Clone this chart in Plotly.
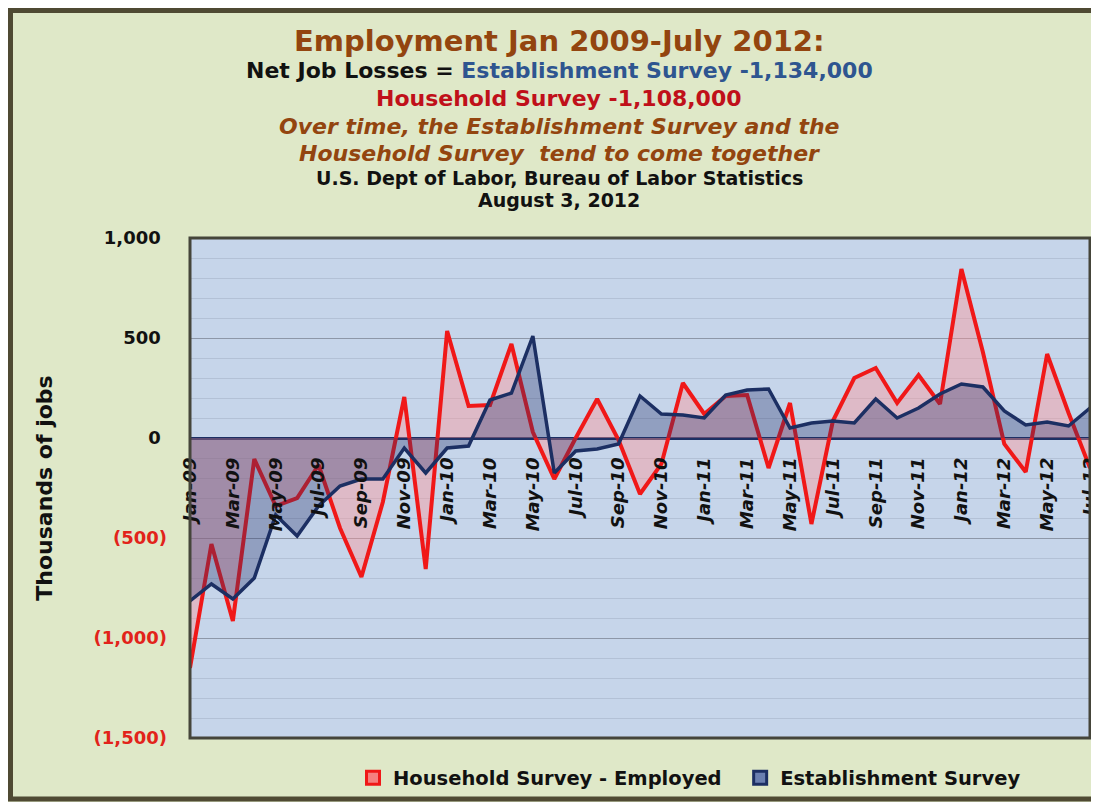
import plotly.graph_objects as go

months = ["Jan-09","Feb-09","Mar-09","Apr-09","May-09","Jun-09","Jul-09","Aug-09","Sep-09","Oct-09","Nov-09","Dec-09",
          "Jan-10","Feb-10","Mar-10","Apr-10","May-10","Jun-10","Jul-10","Aug-10","Sep-10","Oct-10","Nov-10","Dec-10",
          "Jan-11","Feb-11","Mar-11","Apr-11","May-11","Jun-11","Jul-11","Aug-11","Sep-11","Oct-11","Nov-11","Dec-11",
          "Jan-12","Feb-12","Mar-12","Apr-12","May-12","Jun-12","Jul-12"]

household = [-1150, -530, -915, -105, -340, -300, -135, -450, -695, -320, 205, -655,
             535, 160, 165, 470, 30, -205, 0, 195, -10, -280, -130, 275,
             120, 210, 215, -150, 175, -430, 85, 300, 350, 175, 315, 170,
             845, 430, -30, -170, 420, 125, -150]

establishment = [-815, -730, -805, -700, -385, -490, -340, -240, -205, -205, -50, -175,
                 -50, -40, 190, 225, 510, -175, -65, -55, -30, 210, 120, 115,
                 100, 215, 240, 245, 50, 75, 85, 75, 195, 100, 150, 220,
                 270, 255, 135, 65, 80, 60, 150]

tick_months = months[::2]
y_ticks = [1000, 500, 0, -500, -1000, -1500]
y_tick_text = ["1,000\u00a0", "500\u00a0", "0\u00a0",
               "<span style='color:#e2231a'>(500)</span>",
               "<span style='color:#e2231a'>(1,000)</span>",
               "<span style='color:#e2231a'>(1,500)</span>"]

# figure is drawn 8px in from the page corner (browser body margin)
W, H = 1091, 794
L, R, T, B = 182, 1082, 230, 730


def px(x):
    return (x - L) / (R - L)


def py(y):
    return (B - y) / (B - T)


FONT = "DejaVu Sans"
RED = "#f01818"
NAVY = "#1c2f63"

fig = go.Figure()
fig.add_trace(go.Scatter(x=months, y=household, mode="lines", fill="tozeroy",
                         fillcolor="rgba(255,150,150,0.42)",
                         line=dict(color=RED, width=4), showlegend=False))
fig.add_trace(go.Scatter(x=months, y=establishment, mode="lines", fill="tozeroy",
                         fillcolor="rgba(35,50,105,0.33)",
                         line=dict(color=NAVY, width=3.5), showlegend=False))
fig.add_trace(go.Scatter(x=[None], y=[None], mode="markers",
                         name="Household Survey - Employed\u00a0\u00a0",
                         marker=dict(symbol="square", size=13, color="#f58080",
                                     line=dict(color=RED, width=3))))
fig.add_trace(go.Scatter(x=[None], y=[None], mode="markers", name="Establishment Survey",
                         marker=dict(symbol="square", size=13, color="#6a7fb0",
                                     line=dict(color=NAVY, width=3))))

annots = [
    ("<b>Employment Jan 2009-July 2012:</b>", 33, 29, "#93450f"),
    ("<b>Net Job Losses = <span style='color:#2e5590'>Establishment Survey -1,134,000</span></b>", 63, 22, "#111111"),
    ("<b>Household Survey -1,108,000</b>", 90, 22, "#c0101a"),
    ("<b><i>Over time, the Establishment Survey and the</i></b>", 118, 22, "#93450f"),
    ("<b><i>Household Survey  tend to come together</i></b>", 145, 22, "#93450f"),
    ("<b>U.S. Dept of Labor, Bureau of Labor Statistics</b>", 170, 19, "#111111"),
    ("<b>August 3, 2012</b>", 192, 19, "#111111"),
]
annotations = []
for text, yc, size, color in annots:
    annotations.append(dict(text=text, x=px(551), y=py(yc), xref="paper", yref="paper",
                            xanchor="center", yanchor="middle", showarrow=False,
                            font=dict(family=FONT, size=size, color=color)))

shapes = [
    dict(type="rect", xref="paper", yref="paper", x0=px(2.5), x1=px(1130), y0=py(2.5), y1=py(791),
         fillcolor="rgba(0,0,0,0)", line=dict(color="#4f4a33", width=5), layer="above"),
    dict(type="rect", xref="paper", yref="paper", x0=0, x1=1, y0=0, y1=1,
         fillcolor="rgba(0,0,0,0)", line=dict(color="#45453a", width=3), layer="above"),
]

fig.update_layout(
    width=W, height=H,
    margin=dict(l=L, r=W - R, t=T, b=H - B, autoexpand=False),
    paper_bgcolor="#dfe8c8",
    plot_bgcolor="#c6d5ea",
    font=dict(family=FONT),
    annotations=annotations,
    shapes=shapes,
    showlegend=True,
    legend=dict(orientation="h", x=px(345), y=py(770), xanchor="left", yanchor="middle",
                bgcolor="rgba(0,0,0,0)", font=dict(family=FONT, size=19.5, color="#111111", weight="bold"),
                itemwidth=30),
    xaxis=dict(
        range=[0, len(months) - 1], automargin=False,
        tickmode="array", tickvals=tick_months, ticktext=tick_months,
        tickangle=-90, anchor="free", position=0.6,
        tickfont=dict(family=FONT, size=18, color="#111111", style="italic", weight="bold"),
        showgrid=False, showline=False, ticks="", zeroline=False, ticklabelstandoff=15,
    ),
    yaxis=dict(
        range=[-1500, 1000], automargin=False,
        tickmode="array", tickvals=y_ticks, ticktext=y_tick_text,
        tickfont=dict(family=FONT, size=18, color="#111111", weight="bold"),
        showgrid=True, gridcolor="#8d97a8", gridwidth=1,
        minor=dict(dtick=100, tick0=0, showgrid=True, gridcolor="#b3c1d6", gridwidth=1, ticks=""),
        zeroline=True, zerolinecolor=NAVY, zerolinewidth=3,
        ticks="", ticklabelstandoff=22,
        title=dict(text="<b>Thousands of jobs</b>", font=dict(family=FONT, size=22, color="#111111"),
                   standoff=34),
    ),
)

fig.write_html("out.html")
